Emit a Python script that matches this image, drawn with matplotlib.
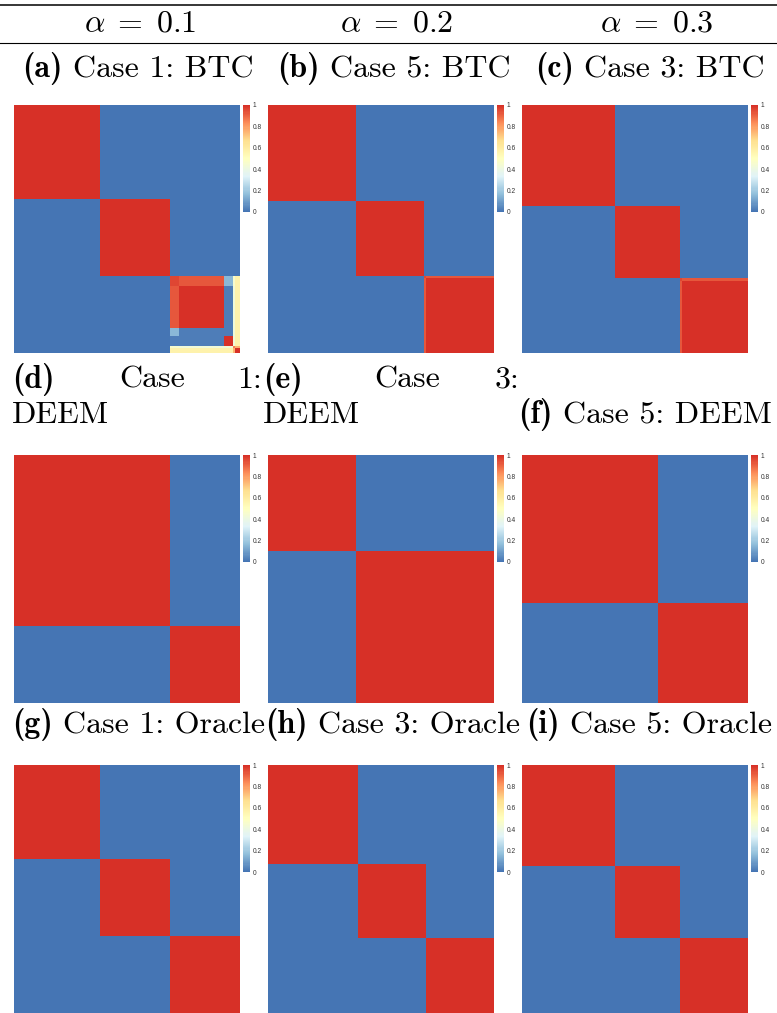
import numpy as np
import matplotlib
matplotlib.use("Agg")
import matplotlib.pyplot as plt
from matplotlib.colors import LinearSegmentedColormap

# pheatmap default palette: rev(brewer.pal(7, "RdYlBu"))
palette = ["#4575B4", "#91BFDB", "#E0F3F8", "#FFFFBF", "#FEE090", "#FC8D59", "#D73027"]

header_labels = [r"$\alpha\;=\;0.1$", r"$\alpha\;=\;0.2$", r"$\alpha\;=\;0.3$"]

# co-clustering matrices, given as segment sizes (rows / cols) and segment values
a_rows = [38, 31, 4, 17, 3, 4, 1, 2]
a_cols = [38, 31, 4, 20, 4, 1, 2]
a_vals = [
    [1, 0, 0, 0, 0, 0, 0],
    [0, 1, 0, 0, 0, 0, 0],
    [0, 0, 0.95, 0.92, 0.15, 0.45, 0.57],
    [0, 0, 0.92, 1, 0.02, 0.42, 0.57],
    [0, 0, 0.15, 0.02, 0.02, 0.42, 0.57],
    [0, 0, 0.02, 0.02, 1, 0.42, 0.57],
    [0, 0, 0.45, 0.42, 0.42, 0.85, 0.75],
    [0, 0, 0.57, 0.57, 0.57, 0.75, 1],
]

b_sizes = [39, 30, 1, 30]
c_sizes = [41, 29, 1, 29]
bc_vals = [
    [1, 0, 0, 0],
    [0, 1, 0, 0],
    [0, 0, 0.95, 0.92],
    [0, 0, 0.92, 1],
]

d_sizes = [69, 31]
e_sizes = [39, 61]
f_sizes = [60, 40]

g_sizes = [38, 31, 31]
h_sizes = [40, 30, 30]
i_sizes = [41, 29, 30]

colorbar_ticks = [0, 0.2, 0.4, 0.6, 0.8, 1]
colorbar_labels = ["0", "0.2", "0.4", "0.6", "0.8", "1"]

W, H = 777, 1013
FS = 23


def seg_matrix(row_sizes, col_sizes, values):
    m = np.array(values, dtype=float)
    m = np.repeat(m, row_sizes, axis=0)
    m = np.repeat(m, col_sizes, axis=1)
    return m


def block_matrix(sizes):
    return seg_matrix(sizes, sizes, np.eye(len(sizes)))


def rect(x, y, w, h):
    # pixel box (top-left origin) -> figure fraction
    return [x / W, 1 - (y + h) / H, w / W, h / H]


def put(fig, x, y, s, family="cmr10", **kw):
    return fig.text(x / W, 1 - y / H, s, fontfamily=family, fontsize=FS,
                    va="baseline", **kw)


def text_width(fig, s, family):
    r = fig.canvas.get_renderer()
    t = fig.text(0, 0, s, fontfamily=family, fontsize=FS)
    w = t.get_window_extent(r).width
    t.remove()
    return w


def caption(fig, x, y, tag, rest, ha="left"):
    # bold "(a)" followed by roman text, like a LaTeX subcaption
    wb = text_width(fig, tag, "cmb10")
    wr = text_width(fig, rest, "cmr10")
    gap = FS * 100 / 72 * 0.33
    total = wb + gap + wr
    if ha == "center":
        x0 = x - total / 2
    elif ha == "right":
        x0 = x - total
    else:
        x0 = x
    put(fig, x0, y, tag, family="cmb10")
    put(fig, x0 + wb + gap, y, rest)


def draw_panel(fig, cmap, mat, x, y):
    ax = fig.add_axes(rect(x, y, 226, 248))
    im = ax.imshow(mat, cmap=cmap, vmin=0, vmax=1, aspect="auto",
                   interpolation="nearest")
    ax.axis("off")
    cax = fig.add_axes(rect(x + 229, y, 7, 107))
    cb = fig.colorbar(im, cax=cax, ticks=colorbar_ticks)
    cb.outline.set_visible(False)
    cb.ax.set_yticklabels(colorbar_labels)
    cb.ax.tick_params(length=0, pad=2, labelsize=4.8, labelcolor="#333333")
    for t in cb.ax.get_yticklabels():
        t.set_fontfamily("Liberation Sans")


def main():
    plt.rcParams["mathtext.fontset"] = "cm"
    cmap = LinearSegmentedColormap.from_list("pheat", palette, N=100)

    fig = plt.figure(figsize=(W / 100, H / 100), dpi=100)

    # table rules
    fig.add_artist(plt.Line2D([0, 1], [1 - 5 / H, 1 - 5 / H], color="black", lw=1.1))
    fig.add_artist(plt.Line2D([0, 1], [1 - 43 / H, 1 - 43 / H], color="black", lw=0.8))

    for cx, lab in zip([140, 397, 657], header_labels):
        put(fig, cx, 31, lab, ha="center")

    col_x = [14, 268, 522]
    row_y = [105, 455, 765]

    # row 1: BTC
    caption(fig, 138, 77, "(a)", "Case 1: BTC", ha="center")
    caption(fig, 394, 77, "(b)", "Case 5: BTC", ha="center")
    caption(fig, 650, 77, "(c)", "Case 3: BTC", ha="center")
    draw_panel(fig, cmap, seg_matrix(a_rows, a_cols, a_vals), col_x[0], row_y[0])
    draw_panel(fig, cmap, seg_matrix(b_sizes, b_sizes, bc_vals), col_x[1], row_y[0])
    draw_panel(fig, cmap, seg_matrix(c_sizes, c_sizes, bc_vals), col_x[2], row_y[0])

    # row 2: DEEM (justified captions)
    put(fig, 12, 388, "(d)", family="cmb10", ha="left")
    put(fig, 152, 388, "Case", ha="center")
    put(fig, 262, 388, "1:", ha="right")
    put(fig, 12, 423, "DEEM", ha="left")
    put(fig, 263, 388, "(e)", family="cmb10", ha="left")
    put(fig, 407, 388, "Case", ha="center")
    put(fig, 519, 388, "3:", ha="right")
    put(fig, 263, 423, "DEEM", ha="left")
    caption(fig, 772, 423, "(f)", "Case 5: DEEM", ha="right")
    draw_panel(fig, cmap, block_matrix(d_sizes), col_x[0], row_y[1])
    draw_panel(fig, cmap, block_matrix(e_sizes), col_x[1], row_y[1])
    draw_panel(fig, cmap, block_matrix(f_sizes), col_x[2], row_y[1])

    # row 3: Oracle
    caption(fig, 12, 733, "(g)", "Case 1: Oracle")
    caption(fig, 265, 733, "(h)", "Case 3: Oracle")
    caption(fig, 772, 733, "(i)", "Case 5: Oracle", ha="right")
    draw_panel(fig, cmap, block_matrix(g_sizes), col_x[0], row_y[2])
    draw_panel(fig, cmap, block_matrix(h_sizes), col_x[1], row_y[2])
    draw_panel(fig, cmap, block_matrix(i_sizes), col_x[2], row_y[2])

    fig.savefig("out.png", dpi=100)


if __name__ == "__main__":
    main()
